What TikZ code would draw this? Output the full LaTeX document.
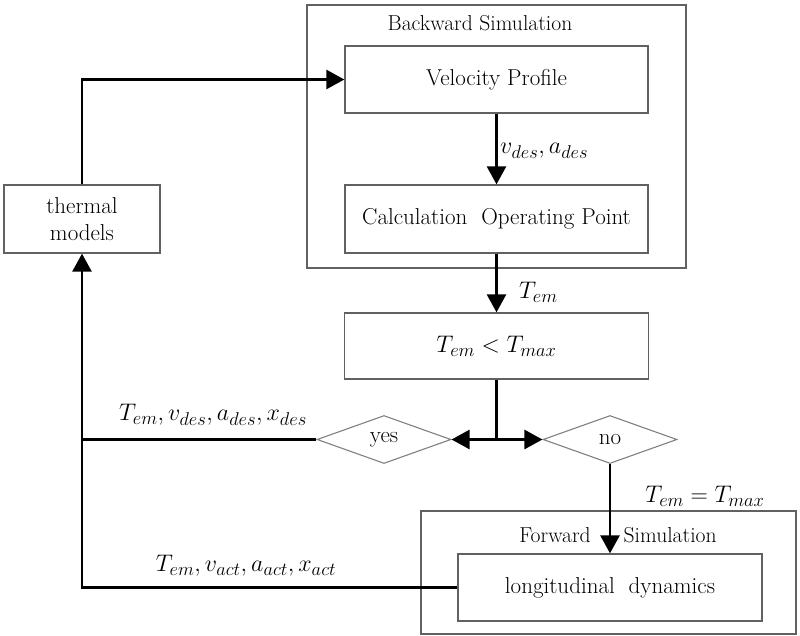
\documentclass[tikz,border=0pt]{standalone}
\usepackage{fix-cm}
\DeclareMathSizes{23}{24}{18.5}{14}
\DeclareMathSizes{21.6}{24}{18.5}{14}
\usetikzlibrary{arrows.meta,shapes.geometric}
\tikzset{
  box/.style={draw=black!62, line width=1.3pt, inner sep=0pt, align=center},
  dia/.style={diamond, draw=black!50, line width=1.1pt, inner sep=0pt, minimum width=134pt, minimum height=48pt, aspect=2.8},
  conn/.style={line width=2.6pt, draw=black},
  arr/.style={conn, -{Triangle[length=18pt,width=19pt]}},
  lbl/.style={inner sep=0pt},
  ttl/.style={inner sep=0pt, font=\fontsize{21.6}{26}\selectfont}
}
\begin{document}
\begin{tikzpicture}[x=1pt,y=-1pt,font=\fontsize{23}{27}\selectfont]
\useasboundingbox (0,0) rectangle (800,635);
% containers
\node[box, minimum width=379pt, minimum height=263pt] (bw) at (496.5,136.5) {};
\node[ttl] (bwt) at (480,23) {Backward Simulation};
\node[box, minimum width=375pt, minimum height=123pt] (fw) at (608.5,572.5) {};
\node[ttl] (fwt) at (618,535) {Forward\hspace{33pt}Simulation};
% blocks
\node[box, minimum width=303pt, minimum height=67pt] (vp) at (496.5,79.5) {Velocity Profile};
\node[box, minimum width=303pt, minimum height=68pt] (cop) at (496.5,219) {Calculation\ \ Operating Point};
\node[box, minimum width=156pt, minimum height=68pt] (tm) at (82,219) {thermal\\models};
\node[box, minimum width=304pt, minimum height=66pt] (cmp) at (496.5,346) {$T_{em} < T_{max}$};
\node[dia] (yes) at (384,439.5) {yes};
\node[dia] (no) at (610,439.5) {no};
\node[box, minimum width=304pt, minimum height=67pt] (ld) at (610,587.5) {longitudinal\ \ dynamics};
% junctions
\coordinate (j) at (496.5,439.5);
\coordinate (m) at (82,439.5);
% connectors
\draw[arr] (tm.north) |- (vp.west);
\draw[arr] (vp.south) -- (cop.north);
\draw[arr] (cop.south) -- (cmp.north);
\draw[conn] (cmp.south) -- (j);
\draw[arr] (j) -- (yes.east);
\draw[arr] (j) -- (no.west);
\draw[arr] (no.south) -- (no.south |- ld.north);
\draw[conn] (yes.west) -- (m);
\draw[arr] (m) -- (tm.south);
\draw[conn] (ld.west) -| (m);
% labels
\node[lbl, anchor=west] (l1) at (500,151) {$v_{des}, a_{des}$};
\node[lbl, anchor=west] (l2) at (519,292) {$T_{em}$};
\node[lbl] (l3) at (705,496) {$T_{em} = T_{max}$};
\node[lbl] (l4) at (213,415) {$T_{em}, v_{des}, a_{des}, x_{des}$};
\node[lbl] (l5) at (246,566) {$T_{em}, v_{act}, a_{act}, x_{act}$};
\end{tikzpicture}
\end{document}
